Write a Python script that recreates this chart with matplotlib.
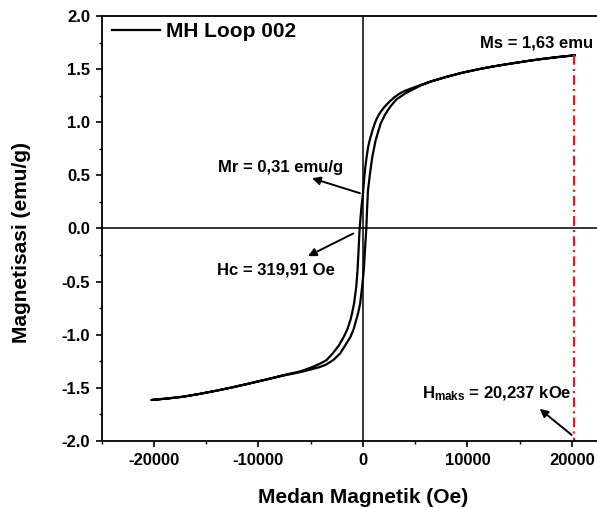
import matplotlib
matplotlib.use('Agg')
import matplotlib.pyplot as plt
from matplotlib.ticker import MultipleLocator

plt.rcParams['font.family'] = ['Liberation Sans', 'DejaVu Sans']
plt.rcParams['font.weight'] = 'bold'
plt.rcParams['mathtext.fontset'] = 'custom'
plt.rcParams['mathtext.rm'] = 'Liberation Sans:bold'
plt.rcParams['mathtext.it'] = 'Liberation Sans:bold'
plt.rcParams['mathtext.bf'] = 'Liberation Sans:bold'
plt.rcParams['lines.scale_dashes'] = False
plt.rcParams['axes.unicode_minus'] = False

# Descending branch (from +Hmax to -Hmax)
H_desc = [20237, 18500, 17000, 15500, 14000, 12500, 11000, 9500, 8000, 6500,
          5500, 4800, 4000, 3500, 3000, 2500, 2040, 1600, 1300, 1120,
          900, 640, 480, 350, 250, 160, 80, 0, -160, -320,
          -420, -520, -640, -850, -1050, -1200, -1500, -1840, -2300, -2890,
          -3500, -4160, -5000, -6000, -7600, -9200, -10800, -12500, -14000, -15600,
          -17200, -18700, -20237]
M_desc = [1.630, 1.612, 1.594, 1.573, 1.550, 1.526, 1.498, 1.466, 1.428, 1.385,
          1.350, 1.325, 1.295, 1.270, 1.235, 1.190, 1.143, 1.085, 1.030, 0.987,
          0.920, 0.830, 0.760, 0.673, 0.600, 0.517, 0.430, 0.330, 0.190, 0.000,
          -0.200, -0.390, -0.547, -0.705, -0.800, -0.862, -0.950, -1.020, -1.100, -1.175,
          -1.240, -1.275, -1.310, -1.345, -1.380, -1.420, -1.457, -1.495, -1.526, -1.556,
          -1.583, -1.600, -1.614]

# Ascending branch (from -Hmax to +Hmax)
H_asc = [-20237, -18700, -17200, -15600, -14000, -12500, -10800, -9200, -7600, -6000,
         -5000, -4160, -3520, -2800, -2180, -1700, -1200, -900, -650, -450,
         -270, -80, 80, 170, 250, 320, 400, 480, 580, 670,
         890, 1210, 1450, 1690, 2100, 2580, 3200, 4020, 4800, 5500,
         6500, 8000, 9500, 11000, 12500, 14000, 15500, 17000, 18500, 20237]
M_asc = [-1.614, -1.600, -1.583, -1.556, -1.526, -1.495, -1.457, -1.420, -1.384, -1.352,
         -1.327, -1.305, -1.280, -1.235, -1.175, -1.100, -1.020, -0.950, -0.862, -0.790,
         -0.705, -0.547, -0.390, -0.235, -0.110, 0.000, 0.200, 0.360, 0.440, 0.517,
         0.673, 0.830, 0.910, 0.987, 1.070, 1.143, 1.215, 1.270, 1.310, 1.345,
         1.383, 1.427, 1.466, 1.498, 1.526, 1.550, 1.573, 1.594, 1.612, 1.630]

H_max = 20237
Ms = 1.63

x_ticks = [-20000, -10000, 0, 10000, 20000]
y_ticks = [-2.0, -1.5, -1.0, -0.5, 0.0, 0.5, 1.0, 1.5, 2.0]

fig = plt.figure(figsize=(5.97, 5.08), dpi=100)
ax = fig.add_axes([0.1704, 0.1319, 0.8752, 0.8366])

ax.plot(H_desc + H_asc, M_desc + M_asc, color='black', lw=1.6, label='MH Loop 002')
ax.axhline(0, color='black', lw=1.1)
ax.axvline(0, color='black', lw=1.1)
ax.plot([H_max, H_max], [Ms, -2.0], color='#d4202c', lw=1.6,
        linestyle=(0, (7, 3, 1.5, 3)))

ax.set_xlim(-25000, 25000)
ax.set_ylim(-2.0, 2.0)
ax.set_xticks(x_ticks)
ax.set_yticks(y_ticks)
ax.set_xticklabels([str(v) for v in x_ticks])
ax.set_yticklabels([f"{v:.1f}" for v in y_ticks])
ax.xaxis.set_minor_locator(MultipleLocator(5000))
ax.yaxis.set_minor_locator(MultipleLocator(0.25))
ax.tick_params(which='major', direction='out', length=4.5, width=1.2, labelsize=12, pad=4)
ax.tick_params(which='minor', direction='out', length=2.5, width=1.0)
for s in ax.spines.values():
    s.set_linewidth(1.3)

ax.legend(loc='upper left', bbox_to_anchor=(0.02, 0.985), frameon=False,
          prop={'size': 15, 'weight': 'bold'}, handlelength=2.3, handletextpad=0.3,
          borderpad=0, borderaxespad=0)

tkw = dict(fontsize=12, fontweight='bold')
ax.text(11196, 1.742, 'Ms = 1,63 emu', ha='left', va='center', **tkw)
ax.text(-13875, 0.576, 'Mr = 0,31 emu/g', ha='left', va='center', **tkw)
ax.text(-13971, -0.392, 'Hc = 319,91 Oe', ha='left', va='center', **tkw)
ax.text(5617, -1.598, r'H$_{\mathrm{maks}}$ = 20,237 kOe', ha='left', va='baseline', **tkw)

akw = dict(arrowstyle='-|>', color='black', lw=1.4, mutation_scale=12, shrinkA=0, shrinkB=0)
ax.annotate('', xy=(-4880, 0.473), xytext=(-287, 0.332), arrowprops=akw)
ax.annotate('', xy=(-5263, -0.26), xytext=(-928, -0.047), arrowprops=akw)
ax.annotate('', xy=(16910, -1.698), xytext=(19970, -1.943), arrowprops=akw)

ax.set_xlabel('Medan Magnetik (Oe)', fontsize=15, fontweight='bold', va='center')
ax.xaxis.set_label_coords(0.5, -0.132)
ax.set_ylabel('Magnetisasi (emu/g)', fontsize=15, fontweight='bold', va='center')
ax.yaxis.set_label_coords(-0.1545, 0.466)

fig.savefig('out.png', dpi=100)
